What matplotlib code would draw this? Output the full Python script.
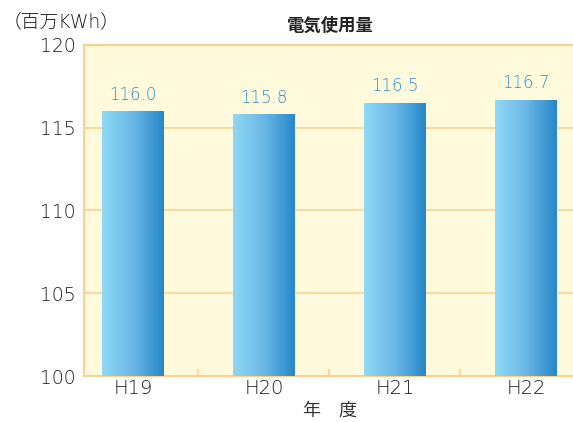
import matplotlib.pyplot as plt
import numpy as np
from matplotlib.colors import LinearSegmentedColormap

plt.rcParams['font.family'] = ['DejaVu Sans', 'Noto Sans CJK JP']

years = ['H19', 'H20', 'H21', 'H22']
usage = [116.0, 115.8, 116.5, 116.7]

edge = '#fcd092'
bg = '#fffadc'
blue = LinearSegmentedColormap.from_list('b', ['#8fd8f6', '#6bb8e6', '#2687c8'])

fig = plt.figure(figsize=(5.73, 4.22), dpi=100)
ax = fig.add_axes([0.1466, 0.109, 0.8534, 0.7844])
ax.set_facecolor(bg)

x = np.arange(len(years))
bars = ax.bar(x, usage, width=0.47, color='none', zorder=3)
grad = np.linspace(0, 1, 256).reshape(1, -1)
for b in bars:
    x0, w, h = b.get_x(), b.get_width(), b.get_height()
    im = ax.imshow(grad, cmap=blue, aspect='auto', extent=[x0, x0 + w, 100, h], zorder=3)
    im.set_clip_path(b)

for xi, v in zip(x, usage):
    ax.text(xi, v + 0.45, f'{v:.1f}', ha='center', va='bottom', fontsize=12,
            fontweight='light', color='#2f8fcb', zorder=4)

ax.set_xlim(-0.374, 3.359)
ax.set_ylim(100, 120)
ax.set_yticks([100, 105, 110, 115, 120])
ax.yaxis.grid(True, color=edge, lw=1.2, zorder=1)
ax.set_xticks(x)
ax.set_xticklabels(years, fontweight='light')
ax.set_yticks(ax.get_yticks())
ax.set_yticklabels([str(int(t)) for t in ax.get_yticks()], fontweight='light')
ax.set_xticks([0.5, 1.5, 2.5], minor=True)
ax.tick_params(axis='x', which='major', length=0, labelsize=14, colors='#1a1a1a', pad=2)
ax.tick_params(axis='x', which='minor', direction='in', length=5, color=edge, width=1.2)
ax.tick_params(axis='y', length=0, labelsize=13.5, colors='#1a1a1a', pad=6)

for s in ['left', 'top', 'bottom']:
    ax.spines[s].set_color(edge)
    ax.spines[s].set_linewidth(1.5)
ax.spines['right'].set_visible(False)

fig.text(0.576, 0.94, '電気使用量', ha='center', va='center', fontsize=12.5, fontweight='bold',
         family=['Noto Sans CJK JP'], color='#222222')
fig.text(0.005, 0.948, '（百万KWh）', ha='left', va='center', fontsize=13.5, fontweight='light', color='#1a1a1a')
fig.text(0.576, 0.028, '年\u3000度', ha='center', va='center', fontsize=13,
         family=['Noto Sans CJK JP'], color='#333333')

fig.savefig('out.png', dpi=100)
